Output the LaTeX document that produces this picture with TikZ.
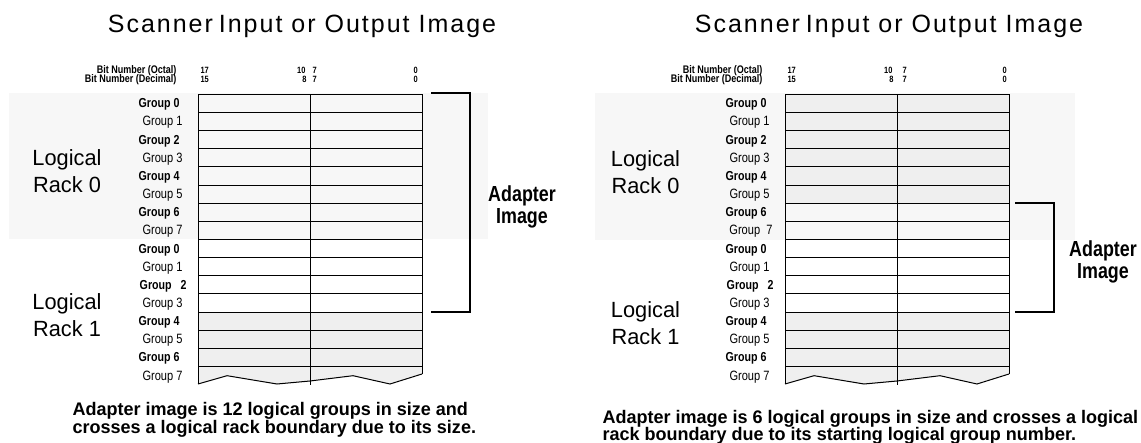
\documentclass[tikz,border=0pt]{standalone}
\usepackage{fontspec}
\setmainfont{Liberation Sans}[FakeStretch=0.99]
\newfontfamily\condfont{Liberation Sans}[FakeStretch=0.82]
\newfontfamily\titlefont{Liberation Sans}[LetterSpace=8]

\definecolor{bandgray}{HTML}{F7F7F7}
\definecolor{cellgray}{HTML}{EFEFEF}

\tikzset{
  titletext/.style={anchor=base,inner sep=0pt,font=\titlefont\fontsize{25}{25}\selectfont},
  bitname/.style={anchor=base east,inner sep=0pt,font=\condfont\fontsize{11}{11}\selectfont\bfseries},
  bitnum/.style={anchor=base west,inner sep=0pt,font=\condfont\fontsize{9.1}{9.1}\selectfont\bfseries},
  grpbold/.style={anchor=base east,inner sep=0pt,font=\condfont\fontsize{13}{13}\selectfont\bfseries},
  grpreg/.style={anchor=base east,inner sep=0pt,font=\condfont\fontsize{13.5}{13.5}\selectfont},
  racktext/.style={anchor=base,inner sep=0pt,font=\fontsize{22}{22}\selectfont},
  adaptertext/.style={anchor=base,inner sep=0pt,font=\condfont\fontsize{21.8}{21.8}\selectfont\bfseries},
  captext/.style={anchor=base west,inner sep=0pt,font=\fontsize{18.2}{18.2}\selectfont\bfseries},
  bracket/.style={line width=2.5pt},
}

\begin{document}
\begin{tikzpicture}[x=1pt,y=-1pt,line width=1pt]
    \useasboundingbox (0,0) rectangle (1141,443);

    % left: adapter image crosses rack boundary by its size
    \fill[bandgray] (9,93) rectangle (488,239.5);
    \fill[cellgray] (198,312.1) -- (422,312.1) -- (422,374) -- (390,384) -- (353,375.7) -- (310,381) -- (277,384) -- (227,375.7) -- (198,384) -- cycle;

    \draw (198,94.3) -- (422,94.3);
    \draw (198,112.45) -- (422,112.45);
    \draw (198,130.6) -- (422,130.6);
    \draw (198,148.75) -- (422,148.75);
    \draw (198,166.9) -- (422,166.9);
    \draw (198,185.05) -- (422,185.05);
    \draw (198,203.2) -- (422,203.2);
    \draw (198,221.35) -- (422,221.35);
    \draw (198,239.5) -- (422,239.5);
    \draw (198,257.65) -- (422,257.65);
    \draw (198,275.8) -- (422,275.8);
    \draw (198,293.95) -- (422,293.95);
    \draw (198,312.1) -- (422,312.1);
    \draw (198,330.25) -- (422,330.25);
    \draw (198,348.4) -- (422,348.4);
    \draw (198,366.55) -- (422,366.55);
    \draw (198,94.3) -- (198,384);
    \draw (310,94.3) -- (310,385);
    \draw (422,94.3) -- (422,374);
    \draw (198,384) -- (227,375.7) -- (277,384) -- (310,381) -- (353,375.7) -- (390,384) -- (422,374);

    \draw[bracket] (431,93) -- (470,93) -- (470,312.1) -- (431,312.1);

    \node[titletext] (ltitle) at (302,33) {Scanner\hspace{-3pt} Input or Output Image};

    \node[bitname] (loct) at (177,74) {Bit Number (Octal)};
    \node[bitname] (ldec) at (177,83) {Bit  Number (Decimal)};
    \node[bitnum] (loct17) at (200,74) {17};
    \node[bitnum,anchor=base east] (loct10) at (306,74) {10};
    \node[bitnum] (loct7) at (312,74) {7};
    \node[bitnum] (loct0) at (413,74) {0};
    \node[bitnum] (ldec15) at (200,83) {15};
    \node[bitnum,anchor=base east] (ldec8) at (307,83) {8};
    \node[bitnum] (ldec7) at (312,83) {7};
    \node[bitnum] (ldec0) at (413,83) {0};

    \node[grpbold] (lg0) at (180,107.9) {Group 0};
    \node[grpreg] (lg1) at (183,126) {Group 1};
    \node[grpbold] (lg2) at (180,144.2) {Group 2};
    \node[grpreg] (lg3) at (183,162.3) {Group 3};
    \node[grpbold] (lg4) at (180,180.5) {Group 4};
    \node[grpreg] (lg5) at (183,198.6) {Group 5};
    \node[grpbold] (lg6) at (180,216.8) {Group 6};
    \node[grpreg] (lg7) at (183,234.9) {Group 7};
    \node[grpbold] (lg8) at (180,253.1) {Group 0};
    \node[grpreg] (lg9) at (183,271.2) {Group 1};
    \node[grpbold] (lg10) at (187,289.4) {Group\ \ \ 2};
    \node[grpreg] (lg11) at (183,307.5) {Group 3};
    \node[grpbold] (lg12) at (180,325.7) {Group 4};
    \node[grpreg] (lg13) at (183,343.8) {Group 5};
    \node[grpbold] (lg14) at (180,362) {Group 6};
    \node[grpreg] (lg15) at (183,380.1) {Group 7};

    \node[racktext] (lrack0a) at (67,165.7) {Logical};
    \node[racktext] (lrack0b) at (67,192.3) {Rack 0};
    \node[racktext] (lrack1a) at (67,310) {Logical};
    \node[racktext] (lrack1b) at (67,336.7) {Rack 1};

    \node[adaptertext] (ladapt) at (522,202) {Adapter};
    \node[adaptertext] (limage) at (522,223.5) {Image};

    \node[captext] (lcap1) at (72,416) {Adapter image is 12 logical groups in size and};
    \node[captext] (lcap2) at (72,433.5) {crosses a logical rack boundary due to its size.};

    % right: adapter image crosses rack boundary by its start group
    \begin{scope}[xshift=587pt]
    \fill[bandgray] (8,93) rectangle (488,240);
    \fill[cellgray] (198,94.3) rectangle (422,203.2);
    \fill[cellgray] (198,312.1) -- (422,312.1) -- (422,374) -- (390,384) -- (353,375.7) -- (310,381) -- (277,384) -- (227,375.7) -- (198,384) -- cycle;

    \draw (198,94.3) -- (422,94.3);
    \draw (198,112.45) -- (422,112.45);
    \draw (198,130.6) -- (422,130.6);
    \draw (198,148.75) -- (422,148.75);
    \draw (198,166.9) -- (422,166.9);
    \draw (198,185.05) -- (422,185.05);
    \draw (198,203.2) -- (422,203.2);
    \draw (198,221.35) -- (422,221.35);
    \draw (198,239.5) -- (422,239.5);
    \draw (198,257.65) -- (422,257.65);
    \draw (198,275.8) -- (422,275.8);
    \draw (198,293.95) -- (422,293.95);
    \draw (198,312.1) -- (422,312.1);
    \draw (198,330.25) -- (422,330.25);
    \draw (198,348.4) -- (422,348.4);
    \draw (198,366.55) -- (422,366.55);
    \draw (198,94.3) -- (198,384);
    \draw (310,94.3) -- (310,385);
    \draw (422,94.3) -- (422,374);
    \draw (198,384) -- (227,375.7) -- (277,384) -- (310,381) -- (353,375.7) -- (390,384) -- (422,374);

    \draw[bracket] (428,203.2) -- (467,203.2) -- (467,312.1) -- (428,312.1);

    \node[titletext] (rtitle) at (302,33) {Scanner\hspace{-3pt} Input or Output Image};

    \node[bitname] (roct) at (176,74) {Bit Number (Octal)};
    \node[bitname] (rdec) at (176,83) {Bit Number (Decimal)};
    \node[bitnum] (roct17) at (200,74) {17};
    \node[bitnum,anchor=base east] (roct10) at (306,74) {10};
    \node[bitnum] (roct7) at (315,74) {7};
    \node[bitnum] (roct0) at (415,74) {0};
    \node[bitnum] (rdec15) at (200,83) {15};
    \node[bitnum,anchor=base east] (rdec8) at (307,83) {8};
    \node[bitnum] (rdec7) at (315,83) {7};
    \node[bitnum] (rdec0) at (415,83) {0};

    \node[grpbold] (rg0) at (180,107.9) {Group 0};
    \node[grpreg] (rg1) at (183,126) {Group 1};
    \node[grpbold] (rg2) at (180,144.2) {Group 2};
    \node[grpreg] (rg3) at (183,162.3) {Group 3};
    \node[grpbold] (rg4) at (180,180.5) {Group 4};
    \node[grpreg] (rg5) at (183,198.6) {Group 5};
    \node[grpbold] (rg6) at (180,216.8) {Group 6};
    \node[grpreg] (rg7) at (186,234.9) {Group\ \ 7};
    \node[grpbold] (rg8) at (180,253.1) {Group 0};
    \node[grpreg] (rg9) at (183,271.2) {Group 1};
    \node[grpbold] (rg10) at (187,289.4) {Group\ \ \ 2};
    \node[grpreg] (rg11) at (183,307.5) {Group 3};
    \node[grpbold] (rg12) at (180,325.7) {Group 4};
    \node[grpreg] (rg13) at (183,343.8) {Group 5};
    \node[grpbold] (rg14) at (180,362) {Group 6};
    \node[grpreg] (rg15) at (183,380.1) {Group 7};

    \node[racktext] (rrack0a) at (58.5,167) {Logical};
    \node[racktext] (rrack0b) at (58.5,193.5) {Rack 0};
    \node[racktext] (rrack1a) at (58.5,318) {Logical};
    \node[racktext] (rrack1b) at (58.5,345) {Rack 1};

    \node[adaptertext] (radapt) at (516,257) {Adapter};
    \node[adaptertext] (rimage) at (516,278.5) {Image};

    \node[captext] (rcap1) at (15,423.5) {Adapter image is 6 logical groups in size and crosses a logical};
    \node[captext] (rcap2) at (15,441) {rack boundary due to its starting logical group number.};
    \end{scope}

\end{tikzpicture}
\end{document}
